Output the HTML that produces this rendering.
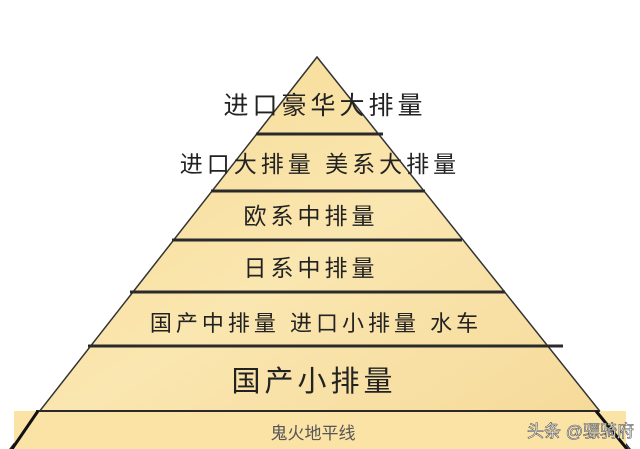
<!DOCTYPE html>
<html><head><meta charset="utf-8"><style>
body{margin:0;background:#fff;}
svg{display:block}
text{font-family:"Liberation Sans","Noto Sans CJK SC",sans-serif;fill:#222;}
</style></head><body>
<svg width="640" height="449" viewBox="0 0 640 449">
<defs><linearGradient id="g" x1="0" y1="0" x2="1" y2="1">
<stop offset="0" stop-color="#f6d98f"/><stop offset="0.5" stop-color="#fae6b0"/><stop offset="1" stop-color="#f5d896"/></linearGradient></defs>
<polygon points="317,57 10,449 630,449" fill="url(#g)" stroke="#333" stroke-width="1.5"/>
<rect x="14" y="411" width="612" height="38" fill="#fbe3a6"/>
<g stroke="#2a2a2a" stroke-width="3">
<line x1="256" y1="134" x2="383" y2="134"/>
<line x1="211" y1="191" x2="425" y2="191"/>
<line x1="172" y1="240" x2="462" y2="240"/>
<line x1="130" y1="292" x2="505" y2="292"/>
<line x1="88" y1="346" x2="563" y2="346"/>
<line x1="36" y1="411" x2="600" y2="411" stroke-width="2"/>
</g>
<line x1="38" y1="411" x2="12" y2="449" stroke="#111" stroke-width="3"/>
<line x1="596" y1="411" x2="627" y2="449" stroke="#111" stroke-width="3"/>
<text x="325" y="114" font-size="25" text-anchor="middle" letter-spacing="4">进口豪华大排量</text>
<text x="320" y="172" font-size="23" text-anchor="middle" letter-spacing="4">进口大排量 美系大排量</text>
<text x="311" y="224" font-size="23" text-anchor="middle" letter-spacing="4">欧系中排量</text>
<text x="311" y="276" font-size="23" text-anchor="middle" letter-spacing="4">日系中排量</text>
<text x="316" y="331" font-size="22" text-anchor="middle" letter-spacing="4">国产中排量 进口小排量 水车</text>
<text x="314" y="391" font-size="29" text-anchor="middle" letter-spacing="4">国产小排量</text>
<text x="313" y="439" font-size="17" text-anchor="middle" fill="#555" style="fill:#555">鬼火地平线</text>
<text x="527" y="437" font-size="17" style="fill:#fff;stroke:#555;stroke-width:0.6">头条 @骠骑府</text>
</svg>
</body></html>
